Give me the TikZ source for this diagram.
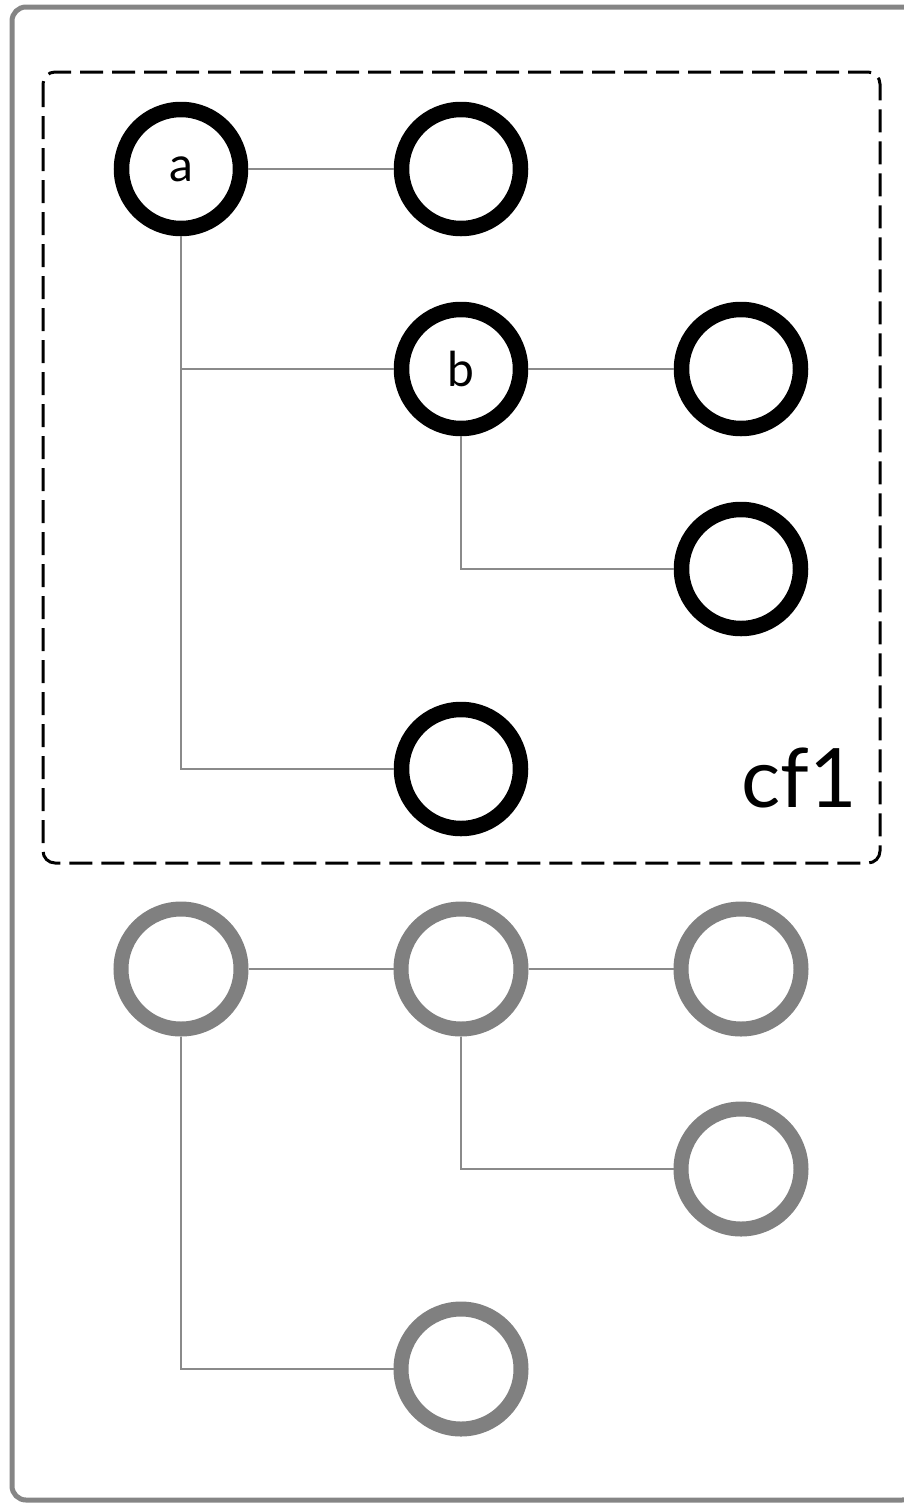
\documentclass[tikz,border=0pt]{standalone}
\usepackage{fontspec}
\setmainfont{Lato}
\definecolor{ringgrey}{HTML}{808080}
\definecolor{linegrey}{HTML}{8A8A8A}
\definecolor{framegrey}{HTML}{858585}
\begin{document}
\begin{tikzpicture}[x=1pt,y=-1pt,
  blackring/.style={circle,draw=black,line width=15.5pt,fill=white,minimum size=119pt,inner sep=0pt,font=\fontsize{48}{54}\selectfont},
  greyring/.style={circle,draw=ringgrey,line width=15pt,fill=white,minimum size=120pt,inner sep=0pt},
  conn/.style={draw=linegrey,line width=2.8pt}]
\useasboundingbox (0,0) rectangle (904,1505);
\clip (0,0) rectangle (904,1505);
% outer frame
\draw[framegrey,line width=5pt,rounded corners=14pt] (12,7) rectangle (916,1500);
% dashed cluster frame
\draw[black,line width=3pt,dash pattern=on 23pt off 9pt,rounded corners=12pt] (43,72) rectangle (880,863);
\node[anchor=base west,inner sep=0pt,font=\fontsize{82}{90}\selectfont] (cf) at (741,807) {cf1};
% black tree
\node[blackring] (a) at (181,169) {a};
\node[blackring] (n1) at (461,169) {};
\node[blackring] (b) at (461,369) {b};
\node[blackring] (n3) at (741,369) {};
\node[blackring] (n5) at (741,569) {};
\node[blackring] (n4) at (461,769) {};
\draw[conn] (a.east) -- (n1.west);
\draw[conn] (a.south) |- (b.west);
\draw[conn] (a.south) |- (n4.west);
\draw[conn] (b.east) -- (n3.west);
\draw[conn] (b.south) |- (n5.west);
% grey tree
\node[greyring] (g1) at (181,969) {};
\node[greyring] (g2) at (461,969) {};
\node[greyring] (g3) at (741,969) {};
\node[greyring] (g5) at (741,1169) {};
\node[greyring] (g4) at (461,1369) {};
\draw[conn] (g1.east) -- (g2.west);
\draw[conn] (g2.east) -- (g3.west);
\draw[conn] (g2.south) |- (g5.west);
\draw[conn] (g1.south) |- (g4.west);
\end{tikzpicture}
\end{document}
